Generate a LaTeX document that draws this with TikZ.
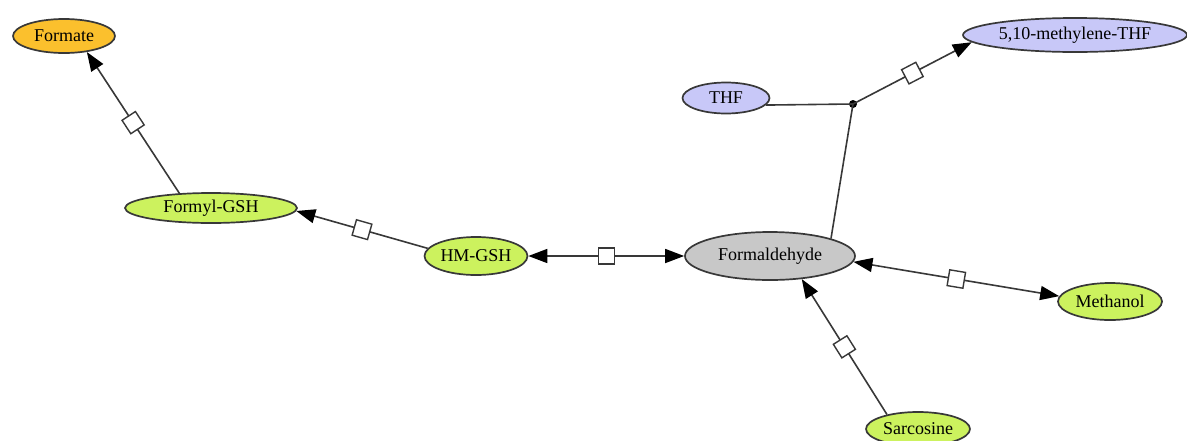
\documentclass[tikz,border=0pt]{standalone}
\usepackage{fontspec}
\setmainfont{Liberation Serif}
\usetikzlibrary{shapes.geometric,arrows.meta}
\definecolor{lineg}{HTML}{383838}
\definecolor{orng}{HTML}{FBC02D}
\definecolor{grn}{HTML}{CCF25E}
\definecolor{lav}{HTML}{C8C8F8}
\definecolor{gry}{HTML}{C8C8C8}
\tikzset{
  met/.style={ellipse, draw=lineg, line width=1.7pt, inner sep=0pt, font=\fontsize{18}{20}\selectfont},
  sq/.style={draw=lineg, fill=white, line width=1.4pt, minimum size=16pt, inner sep=0pt, rectangle, sloped},
  tip/.style={Triangle[length=19pt,width=14pt,fill=black,color=black]},
  conn/.style={draw=lineg, line width=1.6pt, arrows={-Triangle[length=19pt,width=14pt,fill=black,color=black]}},
  bconn/.style={draw=lineg, line width=1.6pt, arrows={Triangle[length=19pt,width=14pt,fill=black,color=black]-Triangle[length=19pt,width=14pt,fill=black,color=black]}},
  plain/.style={draw=lineg, line width=1.6pt}
}
\begin{document}
\begin{tikzpicture}[x=1pt,y=-1pt]
\useasboundingbox (0,0) rectangle (1187,440);
\node[met, fill=orng, minimum width=102pt, minimum height=34pt] (formate) at (64,36) {Formate};
\node[met, fill=grn, minimum width=172pt, minimum height=30pt] (fgsh) at (211,208) {Formyl-GSH};
\node[met, fill=grn, minimum width=103pt, minimum height=38pt] (hmgsh) at (476,256) {HM-GSH};
\node[met, fill=gry, minimum width=170pt, minimum height=48pt] (form) at (770,256) {Formaldehyde};
\node[met, fill=grn, minimum width=104pt, minimum height=37pt] (meth) at (1110,301.5) {Methanol};
\node[met, fill=grn, minimum width=104pt, minimum height=34pt] (sarc) at (918,429) {Sarcosine};
\node[met, fill=lav, minimum width=87pt, minimum height=31pt] (thf) at (726,98) {THF};
\node[met, fill=lav, minimum width=224pt, minimum height=34pt] (mthf) at (1075,35) {5,10-methylene-THF};
\node[circle, fill=black, inner sep=0pt, minimum size=8pt] (dot) at (853,104) {};

\path[conn] (fgsh.155) -- node[sq] (s1) {} (formate.-35);
\path[conn] (hmgsh.171) -- node[sq] (s2) {} (fgsh.-2);
\path[bconn] (hmgsh.east) -- node[sq] (s3) {} (form.west);
\path[bconn] (meth.174) -- node[sq] (s4) {} (form.-4);
\path[conn] (sarc.155) -- node[sq] (s5) {} (form.-36);
\path[plain] (form.16) -- (dot.center);
\path[plain] (thf.-10) -- (dot.center);
\path[conn] (dot.center) -- node[sq] (s6) {} (mthf.184);
\end{tikzpicture}
\end{document}
